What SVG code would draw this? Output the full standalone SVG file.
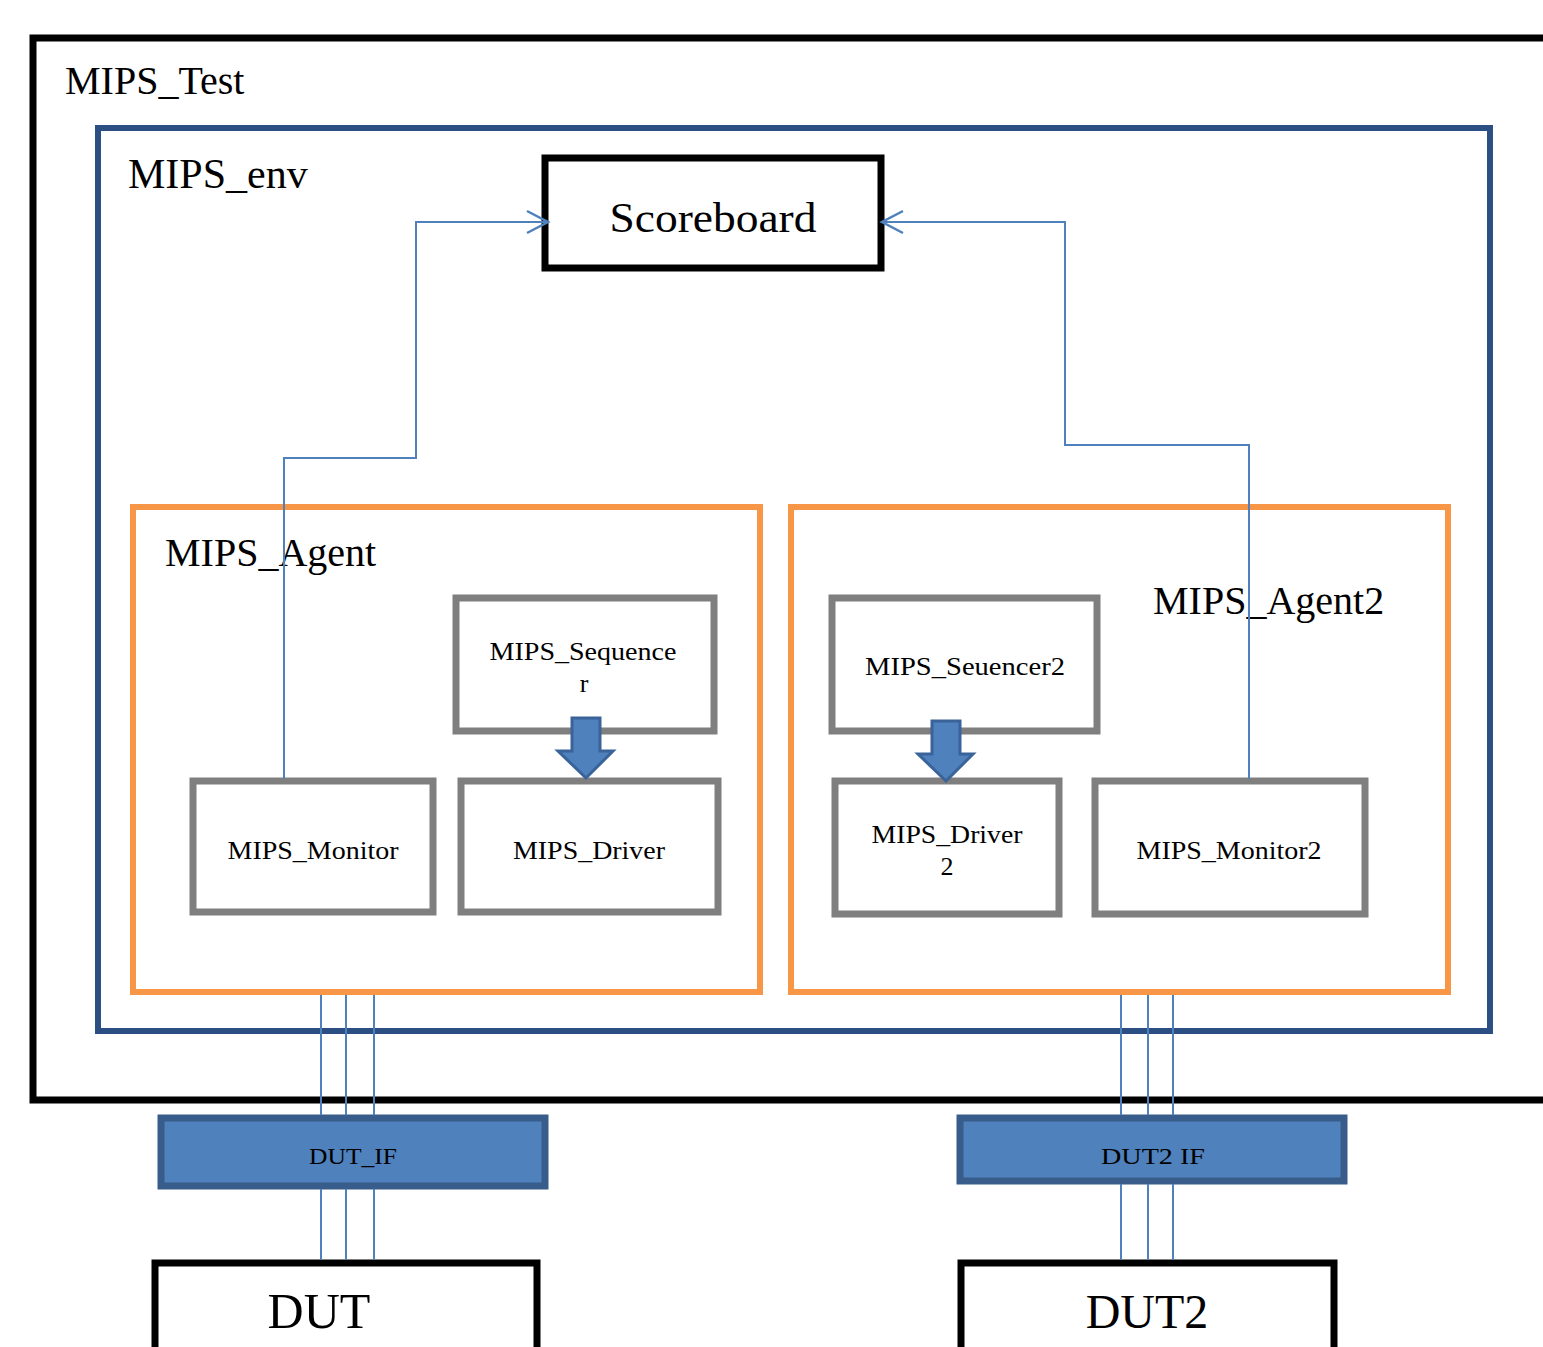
<svg xmlns="http://www.w3.org/2000/svg" width="1543" height="1347" viewBox="0 0 1543 1347">
<style>
.t{font-family:"Liberation Serif","Times New Roman",serif;fill:#000}
.gray{fill:#fff;stroke:#7f7f7f;stroke-width:7}
.orange{fill:none;stroke:#f79646;stroke-width:6}
.blk{fill:#fff;stroke:#000;stroke-width:7}
.conn{fill:none;stroke:#4f81bd;stroke-width:2}
.ifbox{fill:#4f81bd;stroke:#385d8a;stroke-width:7}
.barrow{fill:#4f81bd;stroke:#3a6399;stroke-width:3}
.small{font-size:26px}
</style>
<defs>
<marker id="open" markerWidth="26" markerHeight="26" refX="23" refY="13" orient="auto" markerUnits="userSpaceOnUse">
<path d="M2,2 L23,13 L2,24" fill="none" stroke="#4f81bd" stroke-width="2.5"/>
</marker>
</defs>
<rect width="1543" height="1347" fill="#fff"/>
<g id="mips_test">
<path d="M1550,38 L33,38 L33,1100 L1550,1100" fill="none" stroke="#000" stroke-width="7"/>
<text class="t" x="65" y="94" font-size="40">MIPS_Test</text>
</g>
<g id="mips_env">
<rect x="98" y="128" width="1392" height="903" fill="none" stroke="#2b4f82" stroke-width="6"/>
<text class="t" x="128" y="188" font-size="42">MIPS_env</text>
</g>
<g id="scoreboard">
<rect class="blk" x="545" y="158" width="336" height="110"/>
<text class="t" x="713" y="232" font-size="42" text-anchor="middle" textLength="207" lengthAdjust="spacingAndGlyphs">Scoreboard</text>
</g>
<g id="mips_agent">
<rect class="orange" x="133" y="507" width="627" height="485"/>
<text class="t" x="165" y="566" font-size="40">MIPS_Agent</text>
</g>
<g id="mips_agent2">
<rect class="orange" x="791" y="507" width="657" height="485"/>
<text class="t" x="1153" y="614" font-size="40">MIPS_Agent2</text>
</g>
<g id="mips_sequencer">
<rect class="gray" x="456" y="598" width="258" height="133"/>
<text class="t small" x="583" y="660" text-anchor="middle" textLength="187" lengthAdjust="spacingAndGlyphs">MIPS_Sequence</text>
<text class="t small" x="584" y="692" text-anchor="middle">r</text>
</g>
<g id="mips_monitor">
<rect class="gray" x="193" y="781" width="240" height="131"/>
<text class="t small" x="313" y="859" text-anchor="middle" textLength="171" lengthAdjust="spacingAndGlyphs">MIPS_Monitor</text>
</g>
<g id="mips_driver">
<rect class="gray" x="461" y="781" width="257" height="131"/>
<text class="t small" x="589" y="859" text-anchor="middle" textLength="152" lengthAdjust="spacingAndGlyphs">MIPS_Driver</text>
</g>
<g id="mips_sequencer2">
<rect class="gray" x="832" y="598" width="265" height="133"/>
<text class="t small" x="965" y="675" text-anchor="middle" textLength="200" lengthAdjust="spacingAndGlyphs">MIPS_Seuencer2</text>
</g>
<g id="mips_driver2">
<rect class="gray" x="835" y="781" width="224" height="133"/>
<text class="t small" x="947" y="843" text-anchor="middle" textLength="151" lengthAdjust="spacingAndGlyphs">MIPS_Driver</text>
<text class="t small" x="947" y="875" text-anchor="middle">2</text>
</g>
<g id="mips_monitor2">
<rect class="gray" x="1095" y="781" width="270" height="133"/>
<text class="t small" x="1229" y="859" text-anchor="middle" textLength="185" lengthAdjust="spacingAndGlyphs">MIPS_Monitor2</text>
</g>
<g id="dut_if">
<rect class="ifbox" x="161" y="1118" width="384" height="68"/>
<text class="t" x="353" y="1164" font-size="24" text-anchor="middle" textLength="88" lengthAdjust="spacingAndGlyphs">DUT_IF</text>
</g>
<g id="dut2_if">
<rect class="ifbox" x="960" y="1118" width="384" height="63"/>
<text class="t" x="1153" y="1164" font-size="24" text-anchor="middle" textLength="104" lengthAdjust="spacingAndGlyphs">DUT2 IF</text>
</g>
<g id="dut">
<path d="M155,1360 L155,1263 L537,1263 L537,1360" fill="#fff" stroke="#000" stroke-width="7"/>
<text class="t" x="319" y="1328" font-size="50" text-anchor="middle">DUT</text>
</g>
<g id="dut2">
<path d="M961,1360 L961,1263 L1334,1263 L1334,1360" fill="#fff" stroke="#000" stroke-width="7"/>
<text class="t" x="1147" y="1328" font-size="48" text-anchor="middle">DUT2</text>
</g>
<g id="connectors">
<polyline class="conn" points="284,779 284,458 416,458 416,222 548,222" marker-end="url(#open)"/>
<polyline class="conn" points="1249,779 1249,445 1065,445 1065,222 882,222" marker-end="url(#open)"/>
<path class="conn" d="M321,995 V1115 M346,995 V1115 M374,995 V1115 M321,1189 V1260 M346,1189 V1260 M374,1189 V1260"/>
<path class="conn" d="M1121,995 V1115 M1148,995 V1115 M1173,995 V1115 M1121,1184 V1260 M1148,1184 V1260 M1173,1184 V1260"/>
<path class="barrow" d="M572,718 L600,718 L600,751 L613,751 L586,778 L558,751 L572,751 Z"/>
<path class="barrow" d="M932,721 L960,721 L960,754 L973,754 L946,781 L918,754 L932,754 Z"/>
</g>
</svg>
